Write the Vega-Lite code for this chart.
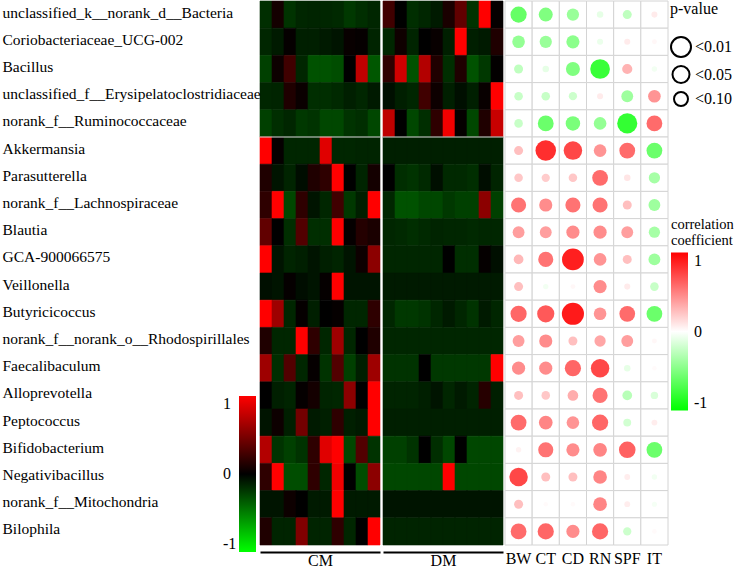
{
"$schema":"https://vega.github.io/schema/vega-lite/v6.json",
"padding":{"left":2,"top":0,"right":0,"bottom":0},
"autosize":{"type":"pad"},
"datasets":{
"cm":[
{"taxon":"unclassified_k__norank_d__Bacteria","sample":"C1","value":-0.18},{"taxon":"unclassified_k__norank_d__Bacteria","sample":"C2","value":0.08},{"taxon":"unclassified_k__norank_d__Bacteria","sample":"C3","value":-0.2},{"taxon":"unclassified_k__norank_d__Bacteria","sample":"C4","value":-0.15},{"taxon":"unclassified_k__norank_d__Bacteria","sample":"C5","value":-0.14},{"taxon":"unclassified_k__norank_d__Bacteria","sample":"C6","value":-0.15},{"taxon":"unclassified_k__norank_d__Bacteria","sample":"C7","value":-0.16},{"taxon":"unclassified_k__norank_d__Bacteria","sample":"C8","value":-0.22},{"taxon":"unclassified_k__norank_d__Bacteria","sample":"C9","value":-0.18},{"taxon":"unclassified_k__norank_d__Bacteria","sample":"C10","value":-0.15},
{"taxon":"Coriobacteriaceae_UCG-002","sample":"C1","value":-0.15},{"taxon":"Coriobacteriaceae_UCG-002","sample":"C2","value":-0.1},{"taxon":"Coriobacteriaceae_UCG-002","sample":"C3","value":0.02},{"taxon":"Coriobacteriaceae_UCG-002","sample":"C4","value":-0.12},{"taxon":"Coriobacteriaceae_UCG-002","sample":"C5","value":-0.12},{"taxon":"Coriobacteriaceae_UCG-002","sample":"C6","value":-0.1},{"taxon":"Coriobacteriaceae_UCG-002","sample":"C7","value":-0.08},{"taxon":"Coriobacteriaceae_UCG-002","sample":"C8","value":0.03},{"taxon":"Coriobacteriaceae_UCG-002","sample":"C9","value":0.02},{"taxon":"Coriobacteriaceae_UCG-002","sample":"C10","value":-0.14},
{"taxon":"Bacillus","sample":"C1","value":-0.25},{"taxon":"Bacillus","sample":"C2","value":0.05},{"taxon":"Bacillus","sample":"C3","value":0.25},{"taxon":"Bacillus","sample":"C4","value":-0.15},{"taxon":"Bacillus","sample":"C5","value":-0.32},{"taxon":"Bacillus","sample":"C6","value":-0.32},{"taxon":"Bacillus","sample":"C7","value":-0.3},{"taxon":"Bacillus","sample":"C8","value":0},{"taxon":"Bacillus","sample":"C9","value":0.75},{"taxon":"Bacillus","sample":"C10","value":-0.34},
{"taxon":"unclassified_f__Erysipelatoclostridiaceae","sample":"C1","value":-0.15},{"taxon":"unclassified_f__Erysipelatoclostridiaceae","sample":"C2","value":-0.14},{"taxon":"unclassified_f__Erysipelatoclostridiaceae","sample":"C3","value":0.12},{"taxon":"unclassified_f__Erysipelatoclostridiaceae","sample":"C4","value":0.04},{"taxon":"unclassified_f__Erysipelatoclostridiaceae","sample":"C5","value":-0.18},{"taxon":"unclassified_f__Erysipelatoclostridiaceae","sample":"C6","value":-0.18},{"taxon":"unclassified_f__Erysipelatoclostridiaceae","sample":"C7","value":-0.16},{"taxon":"unclassified_f__Erysipelatoclostridiaceae","sample":"C8","value":-0.12},{"taxon":"unclassified_f__Erysipelatoclostridiaceae","sample":"C9","value":-0.15},{"taxon":"unclassified_f__Erysipelatoclostridiaceae","sample":"C10","value":-0.1},
{"taxon":"norank_f__Ruminococcaceae","sample":"C1","value":-0.25},{"taxon":"norank_f__Ruminococcaceae","sample":"C2","value":-0.18},{"taxon":"norank_f__Ruminococcaceae","sample":"C3","value":-0.15},{"taxon":"norank_f__Ruminococcaceae","sample":"C4","value":-0.22},{"taxon":"norank_f__Ruminococcaceae","sample":"C5","value":-0.2},{"taxon":"norank_f__Ruminococcaceae","sample":"C6","value":-0.28},{"taxon":"norank_f__Ruminococcaceae","sample":"C7","value":-0.28},{"taxon":"norank_f__Ruminococcaceae","sample":"C8","value":-0.2},{"taxon":"norank_f__Ruminococcaceae","sample":"C9","value":-0.18},{"taxon":"norank_f__Ruminococcaceae","sample":"C10","value":-0.28},
{"taxon":"Akkermansia","sample":"C1","value":1},{"taxon":"Akkermansia","sample":"C2","value":0.02},{"taxon":"Akkermansia","sample":"C3","value":-0.15},{"taxon":"Akkermansia","sample":"C4","value":-0.15},{"taxon":"Akkermansia","sample":"C5","value":-0.15},{"taxon":"Akkermansia","sample":"C6","value":0.88},{"taxon":"Akkermansia","sample":"C7","value":-0.15},{"taxon":"Akkermansia","sample":"C8","value":-0.15},{"taxon":"Akkermansia","sample":"C9","value":-0.14},{"taxon":"Akkermansia","sample":"C10","value":-0.14},
{"taxon":"Parasutterella","sample":"C1","value":0.12},{"taxon":"Parasutterella","sample":"C2","value":-0.08},{"taxon":"Parasutterella","sample":"C3","value":-0.14},{"taxon":"Parasutterella","sample":"C4","value":-0.05},{"taxon":"Parasutterella","sample":"C5","value":0.12},{"taxon":"Parasutterella","sample":"C6","value":0.18},{"taxon":"Parasutterella","sample":"C7","value":1},{"taxon":"Parasutterella","sample":"C8","value":0},{"taxon":"Parasutterella","sample":"C9","value":-0.14},{"taxon":"Parasutterella","sample":"C10","value":0.08},
{"taxon":"norank_f__Lachnospiraceae","sample":"C1","value":0.18},{"taxon":"norank_f__Lachnospiraceae","sample":"C2","value":1},{"taxon":"norank_f__Lachnospiraceae","sample":"C3","value":-0.28},{"taxon":"norank_f__Lachnospiraceae","sample":"C4","value":0.18},{"taxon":"norank_f__Lachnospiraceae","sample":"C5","value":-0.08},{"taxon":"norank_f__Lachnospiraceae","sample":"C6","value":-0.15},{"taxon":"norank_f__Lachnospiraceae","sample":"C7","value":0.25},{"taxon":"norank_f__Lachnospiraceae","sample":"C8","value":-0.22},{"taxon":"norank_f__Lachnospiraceae","sample":"C9","value":-0.12},{"taxon":"norank_f__Lachnospiraceae","sample":"C10","value":1},
{"taxon":"Blautia","sample":"C1","value":0.38},{"taxon":"Blautia","sample":"C2","value":0},{"taxon":"Blautia","sample":"C3","value":-0.18},{"taxon":"Blautia","sample":"C4","value":0.32},{"taxon":"Blautia","sample":"C5","value":-0.18},{"taxon":"Blautia","sample":"C6","value":-0.18},{"taxon":"Blautia","sample":"C7","value":1},{"taxon":"Blautia","sample":"C8","value":0.02},{"taxon":"Blautia","sample":"C9","value":0.14},{"taxon":"Blautia","sample":"C10","value":0.1},
{"taxon":"GCA-900066575","sample":"C1","value":1},{"taxon":"GCA-900066575","sample":"C2","value":-0.08},{"taxon":"GCA-900066575","sample":"C3","value":-0.14},{"taxon":"GCA-900066575","sample":"C4","value":-0.12},{"taxon":"GCA-900066575","sample":"C5","value":-0.08},{"taxon":"GCA-900066575","sample":"C6","value":-0.12},{"taxon":"GCA-900066575","sample":"C7","value":-0.14},{"taxon":"GCA-900066575","sample":"C8","value":-0.08},{"taxon":"GCA-900066575","sample":"C9","value":0.05},{"taxon":"GCA-900066575","sample":"C10","value":0.55},
{"taxon":"Veillonella","sample":"C1","value":-0.06},{"taxon":"Veillonella","sample":"C2","value":-0.08},{"taxon":"Veillonella","sample":"C3","value":0.02},{"taxon":"Veillonella","sample":"C4","value":-0.05},{"taxon":"Veillonella","sample":"C5","value":-0.08},{"taxon":"Veillonella","sample":"C6","value":0.02},{"taxon":"Veillonella","sample":"C7","value":1},{"taxon":"Veillonella","sample":"C8","value":-0.08},{"taxon":"Veillonella","sample":"C9","value":-0.08},{"taxon":"Veillonella","sample":"C10","value":-0.08},
{"taxon":"Butyricicoccus","sample":"C1","value":1},{"taxon":"Butyricicoccus","sample":"C2","value":0.62},{"taxon":"Butyricicoccus","sample":"C3","value":-0.15},{"taxon":"Butyricicoccus","sample":"C4","value":0.02},{"taxon":"Butyricicoccus","sample":"C5","value":-0.12},{"taxon":"Butyricicoccus","sample":"C6","value":0},{"taxon":"Butyricicoccus","sample":"C7","value":0.02},{"taxon":"Butyricicoccus","sample":"C8","value":-0.15},{"taxon":"Butyricicoccus","sample":"C9","value":-0.15},{"taxon":"Butyricicoccus","sample":"C10","value":0.18},
{"taxon":"norank_f__norank_o__Rhodospirillales","sample":"C1","value":0.12},{"taxon":"norank_f__norank_o__Rhodospirillales","sample":"C2","value":-0.15},{"taxon":"norank_f__norank_o__Rhodospirillales","sample":"C3","value":-0.15},{"taxon":"norank_f__norank_o__Rhodospirillales","sample":"C4","value":1},{"taxon":"norank_f__norank_o__Rhodospirillales","sample":"C5","value":0.18},{"taxon":"norank_f__norank_o__Rhodospirillales","sample":"C6","value":-0.15},{"taxon":"norank_f__norank_o__Rhodospirillales","sample":"C7","value":0.62},{"taxon":"norank_f__norank_o__Rhodospirillales","sample":"C8","value":-0.15},{"taxon":"norank_f__norank_o__Rhodospirillales","sample":"C9","value":0},{"taxon":"norank_f__norank_o__Rhodospirillales","sample":"C10","value":0.12},
{"taxon":"Faecalibaculum","sample":"C1","value":0.62},{"taxon":"Faecalibaculum","sample":"C2","value":-0.18},{"taxon":"Faecalibaculum","sample":"C3","value":0.32},{"taxon":"Faecalibaculum","sample":"C4","value":-0.15},{"taxon":"Faecalibaculum","sample":"C5","value":0.02},{"taxon":"Faecalibaculum","sample":"C6","value":-0.2},{"taxon":"Faecalibaculum","sample":"C7","value":0.32},{"taxon":"Faecalibaculum","sample":"C8","value":-0.25},{"taxon":"Faecalibaculum","sample":"C9","value":-0.12},{"taxon":"Faecalibaculum","sample":"C10","value":0.62},
{"taxon":"Alloprevotella","sample":"C1","value":0},{"taxon":"Alloprevotella","sample":"C2","value":-0.12},{"taxon":"Alloprevotella","sample":"C3","value":-0.14},{"taxon":"Alloprevotella","sample":"C4","value":0.02},{"taxon":"Alloprevotella","sample":"C5","value":0.08},{"taxon":"Alloprevotella","sample":"C6","value":-0.14},{"taxon":"Alloprevotella","sample":"C7","value":-0.15},{"taxon":"Alloprevotella","sample":"C8","value":0.55},{"taxon":"Alloprevotella","sample":"C9","value":0},{"taxon":"Alloprevotella","sample":"C10","value":1},
{"taxon":"Peptococcus","sample":"C1","value":-0.08},{"taxon":"Peptococcus","sample":"C2","value":0.05},{"taxon":"Peptococcus","sample":"C3","value":-0.12},{"taxon":"Peptococcus","sample":"C4","value":0.45},{"taxon":"Peptococcus","sample":"C5","value":-0.1},{"taxon":"Peptococcus","sample":"C6","value":-0.12},{"taxon":"Peptococcus","sample":"C7","value":0.18},{"taxon":"Peptococcus","sample":"C8","value":-0.12},{"taxon":"Peptococcus","sample":"C9","value":-0.1},{"taxon":"Peptococcus","sample":"C10","value":1},
{"taxon":"Bifidobacterium","sample":"C1","value":0.7},{"taxon":"Bifidobacterium","sample":"C2","value":-0.2},{"taxon":"Bifidobacterium","sample":"C3","value":-0.25},{"taxon":"Bifidobacterium","sample":"C4","value":-0.2},{"taxon":"Bifidobacterium","sample":"C5","value":0.18},{"taxon":"Bifidobacterium","sample":"C6","value":0.88},{"taxon":"Bifidobacterium","sample":"C7","value":1},{"taxon":"Bifidobacterium","sample":"C8","value":-0.28},{"taxon":"Bifidobacterium","sample":"C9","value":0.32},{"taxon":"Bifidobacterium","sample":"C10","value":-0.2},
{"taxon":"Negativibacillus","sample":"C1","value":0.18},{"taxon":"Negativibacillus","sample":"C2","value":1},{"taxon":"Negativibacillus","sample":"C3","value":-0.3},{"taxon":"Negativibacillus","sample":"C4","value":-0.3},{"taxon":"Negativibacillus","sample":"C5","value":0.18},{"taxon":"Negativibacillus","sample":"C6","value":-0.15},{"taxon":"Negativibacillus","sample":"C7","value":0.95},{"taxon":"Negativibacillus","sample":"C8","value":0},{"taxon":"Negativibacillus","sample":"C9","value":-0.3},{"taxon":"Negativibacillus","sample":"C10","value":0.55},
{"taxon":"norank_f__Mitochondria","sample":"C1","value":-0.08},{"taxon":"norank_f__Mitochondria","sample":"C2","value":-0.08},{"taxon":"norank_f__Mitochondria","sample":"C3","value":0.05},{"taxon":"norank_f__Mitochondria","sample":"C4","value":0},{"taxon":"norank_f__Mitochondria","sample":"C5","value":-0.1},{"taxon":"norank_f__Mitochondria","sample":"C6","value":-0.1},{"taxon":"norank_f__Mitochondria","sample":"C7","value":1},{"taxon":"norank_f__Mitochondria","sample":"C8","value":-0.1},{"taxon":"norank_f__Mitochondria","sample":"C9","value":-0.1},{"taxon":"norank_f__Mitochondria","sample":"C10","value":-0.1},
{"taxon":"Bilophila","sample":"C1","value":0.12},{"taxon":"Bilophila","sample":"C2","value":-0.14},{"taxon":"Bilophila","sample":"C3","value":-0.14},{"taxon":"Bilophila","sample":"C4","value":0.5},{"taxon":"Bilophila","sample":"C5","value":-0.14},{"taxon":"Bilophila","sample":"C6","value":-0.14},{"taxon":"Bilophila","sample":"C7","value":0.18},{"taxon":"Bilophila","sample":"C8","value":-0.15},{"taxon":"Bilophila","sample":"C9","value":0},{"taxon":"Bilophila","sample":"C10","value":1}
],
"dm":[
{"taxon":"unclassified_k__norank_d__Bacteria","sample":"D1","value":0.25},{"taxon":"unclassified_k__norank_d__Bacteria","sample":"D2","value":0},{"taxon":"unclassified_k__norank_d__Bacteria","sample":"D3","value":-0.18},{"taxon":"unclassified_k__norank_d__Bacteria","sample":"D4","value":-0.15},{"taxon":"unclassified_k__norank_d__Bacteria","sample":"D5","value":-0.1},{"taxon":"unclassified_k__norank_d__Bacteria","sample":"D6","value":0.1},{"taxon":"unclassified_k__norank_d__Bacteria","sample":"D7","value":0.38},{"taxon":"unclassified_k__norank_d__Bacteria","sample":"D8","value":-0.2},{"taxon":"unclassified_k__norank_d__Bacteria","sample":"D9","value":1},{"taxon":"unclassified_k__norank_d__Bacteria","sample":"D10","value":0.02},
{"taxon":"Coriobacteriaceae_UCG-002","sample":"D1","value":-0.15},{"taxon":"Coriobacteriaceae_UCG-002","sample":"D2","value":0.06},{"taxon":"Coriobacteriaceae_UCG-002","sample":"D3","value":-0.14},{"taxon":"Coriobacteriaceae_UCG-002","sample":"D4","value":0},{"taxon":"Coriobacteriaceae_UCG-002","sample":"D5","value":0.03},{"taxon":"Coriobacteriaceae_UCG-002","sample":"D6","value":-0.12},{"taxon":"Coriobacteriaceae_UCG-002","sample":"D7","value":1},{"taxon":"Coriobacteriaceae_UCG-002","sample":"D8","value":-0.12},{"taxon":"Coriobacteriaceae_UCG-002","sample":"D9","value":-0.1},{"taxon":"Coriobacteriaceae_UCG-002","sample":"D10","value":0.12},
{"taxon":"Bacillus","sample":"D1","value":0.18},{"taxon":"Bacillus","sample":"D2","value":0.82},{"taxon":"Bacillus","sample":"D3","value":-0.32},{"taxon":"Bacillus","sample":"D4","value":0.7},{"taxon":"Bacillus","sample":"D5","value":0.12},{"taxon":"Bacillus","sample":"D6","value":-0.18},{"taxon":"Bacillus","sample":"D7","value":0.12},{"taxon":"Bacillus","sample":"D8","value":-0.32},{"taxon":"Bacillus","sample":"D9","value":-0.22},{"taxon":"Bacillus","sample":"D10","value":0.01},
{"taxon":"unclassified_f__Erysipelatoclostridiaceae","sample":"D1","value":-0.06},{"taxon":"unclassified_f__Erysipelatoclostridiaceae","sample":"D2","value":-0.12},{"taxon":"unclassified_f__Erysipelatoclostridiaceae","sample":"D3","value":-0.15},{"taxon":"unclassified_f__Erysipelatoclostridiaceae","sample":"D4","value":0.25},{"taxon":"unclassified_f__Erysipelatoclostridiaceae","sample":"D5","value":0.05},{"taxon":"unclassified_f__Erysipelatoclostridiaceae","sample":"D6","value":-0.12},{"taxon":"unclassified_f__Erysipelatoclostridiaceae","sample":"D7","value":-0.06},{"taxon":"unclassified_f__Erysipelatoclostridiaceae","sample":"D8","value":-0.12},{"taxon":"unclassified_f__Erysipelatoclostridiaceae","sample":"D9","value":0.03},{"taxon":"unclassified_f__Erysipelatoclostridiaceae","sample":"D10","value":1},
{"taxon":"norank_f__Ruminococcaceae","sample":"D1","value":0.75},{"taxon":"norank_f__Ruminococcaceae","sample":"D2","value":0},{"taxon":"norank_f__Ruminococcaceae","sample":"D3","value":-0.28},{"taxon":"norank_f__Ruminococcaceae","sample":"D4","value":-0.18},{"taxon":"norank_f__Ruminococcaceae","sample":"D5","value":0.18},{"taxon":"norank_f__Ruminococcaceae","sample":"D6","value":0.95},{"taxon":"norank_f__Ruminococcaceae","sample":"D7","value":0.02},{"taxon":"norank_f__Ruminococcaceae","sample":"D8","value":-0.28},{"taxon":"norank_f__Ruminococcaceae","sample":"D9","value":0.12},{"taxon":"norank_f__Ruminococcaceae","sample":"D10","value":0.78},
{"taxon":"Akkermansia","sample":"D1","value":-0.12},{"taxon":"Akkermansia","sample":"D2","value":-0.12},{"taxon":"Akkermansia","sample":"D3","value":-0.12},{"taxon":"Akkermansia","sample":"D4","value":-0.12},{"taxon":"Akkermansia","sample":"D5","value":-0.12},{"taxon":"Akkermansia","sample":"D6","value":-0.12},{"taxon":"Akkermansia","sample":"D7","value":-0.12},{"taxon":"Akkermansia","sample":"D8","value":-0.12},{"taxon":"Akkermansia","sample":"D9","value":-0.12},{"taxon":"Akkermansia","sample":"D10","value":-0.12},
{"taxon":"Parasutterella","sample":"D1","value":0},{"taxon":"Parasutterella","sample":"D2","value":-0.18},{"taxon":"Parasutterella","sample":"D3","value":-0.2},{"taxon":"Parasutterella","sample":"D4","value":-0.16},{"taxon":"Parasutterella","sample":"D5","value":-0.06},{"taxon":"Parasutterella","sample":"D6","value":-0.16},{"taxon":"Parasutterella","sample":"D7","value":-0.16},{"taxon":"Parasutterella","sample":"D8","value":-0.18},{"taxon":"Parasutterella","sample":"D9","value":-0.05},{"taxon":"Parasutterella","sample":"D10","value":-0.14},
{"taxon":"norank_f__Lachnospiraceae","sample":"D1","value":-0.15},{"taxon":"norank_f__Lachnospiraceae","sample":"D2","value":-0.32},{"taxon":"norank_f__Lachnospiraceae","sample":"D3","value":-0.32},{"taxon":"norank_f__Lachnospiraceae","sample":"D4","value":-0.28},{"taxon":"norank_f__Lachnospiraceae","sample":"D5","value":-0.28},{"taxon":"norank_f__Lachnospiraceae","sample":"D6","value":-0.22},{"taxon":"norank_f__Lachnospiraceae","sample":"D7","value":-0.25},{"taxon":"norank_f__Lachnospiraceae","sample":"D8","value":-0.25},{"taxon":"norank_f__Lachnospiraceae","sample":"D9","value":0.55},{"taxon":"norank_f__Lachnospiraceae","sample":"D10","value":-0.25},
{"taxon":"Blautia","sample":"D1","value":-0.15},{"taxon":"Blautia","sample":"D2","value":-0.16},{"taxon":"Blautia","sample":"D3","value":-0.18},{"taxon":"Blautia","sample":"D4","value":-0.16},{"taxon":"Blautia","sample":"D5","value":-0.14},{"taxon":"Blautia","sample":"D6","value":-0.15},{"taxon":"Blautia","sample":"D7","value":-0.15},{"taxon":"Blautia","sample":"D8","value":-0.16},{"taxon":"Blautia","sample":"D9","value":-0.15},{"taxon":"Blautia","sample":"D10","value":-0.15},
{"taxon":"GCA-900066575","sample":"D1","value":-0.15},{"taxon":"GCA-900066575","sample":"D2","value":-0.15},{"taxon":"GCA-900066575","sample":"D3","value":-0.15},{"taxon":"GCA-900066575","sample":"D4","value":-0.15},{"taxon":"GCA-900066575","sample":"D5","value":-0.15},{"taxon":"GCA-900066575","sample":"D6","value":0},{"taxon":"GCA-900066575","sample":"D7","value":-0.18},{"taxon":"GCA-900066575","sample":"D8","value":-0.18},{"taxon":"GCA-900066575","sample":"D9","value":0.02},{"taxon":"GCA-900066575","sample":"D10","value":-0.06},
{"taxon":"Veillonella","sample":"D1","value":-0.1},{"taxon":"Veillonella","sample":"D2","value":-0.1},{"taxon":"Veillonella","sample":"D3","value":-0.1},{"taxon":"Veillonella","sample":"D4","value":-0.1},{"taxon":"Veillonella","sample":"D5","value":-0.1},{"taxon":"Veillonella","sample":"D6","value":-0.1},{"taxon":"Veillonella","sample":"D7","value":-0.1},{"taxon":"Veillonella","sample":"D8","value":-0.1},{"taxon":"Veillonella","sample":"D9","value":-0.1},{"taxon":"Veillonella","sample":"D10","value":-0.1},
{"taxon":"Butyricicoccus","sample":"D1","value":-0.15},{"taxon":"Butyricicoccus","sample":"D2","value":-0.22},{"taxon":"Butyricicoccus","sample":"D3","value":-0.22},{"taxon":"Butyricicoccus","sample":"D4","value":-0.2},{"taxon":"Butyricicoccus","sample":"D5","value":-0.15},{"taxon":"Butyricicoccus","sample":"D6","value":-0.1},{"taxon":"Butyricicoccus","sample":"D7","value":-0.15},{"taxon":"Butyricicoccus","sample":"D8","value":-0.2},{"taxon":"Butyricicoccus","sample":"D9","value":-0.1},{"taxon":"Butyricicoccus","sample":"D10","value":-0.15},
{"taxon":"norank_f__norank_o__Rhodospirillales","sample":"D1","value":-0.15},{"taxon":"norank_f__norank_o__Rhodospirillales","sample":"D2","value":-0.15},{"taxon":"norank_f__norank_o__Rhodospirillales","sample":"D3","value":-0.15},{"taxon":"norank_f__norank_o__Rhodospirillales","sample":"D4","value":-0.15},{"taxon":"norank_f__norank_o__Rhodospirillales","sample":"D5","value":-0.15},{"taxon":"norank_f__norank_o__Rhodospirillales","sample":"D6","value":-0.15},{"taxon":"norank_f__norank_o__Rhodospirillales","sample":"D7","value":-0.15},{"taxon":"norank_f__norank_o__Rhodospirillales","sample":"D8","value":-0.15},{"taxon":"norank_f__norank_o__Rhodospirillales","sample":"D9","value":-0.15},{"taxon":"norank_f__norank_o__Rhodospirillales","sample":"D10","value":-0.15},
{"taxon":"Faecalibaculum","sample":"D1","value":-0.2},{"taxon":"Faecalibaculum","sample":"D2","value":-0.2},{"taxon":"Faecalibaculum","sample":"D3","value":-0.2},{"taxon":"Faecalibaculum","sample":"D4","value":0},{"taxon":"Faecalibaculum","sample":"D5","value":-0.22},{"taxon":"Faecalibaculum","sample":"D6","value":-0.22},{"taxon":"Faecalibaculum","sample":"D7","value":-0.22},{"taxon":"Faecalibaculum","sample":"D8","value":-0.22},{"taxon":"Faecalibaculum","sample":"D9","value":-0.22},{"taxon":"Faecalibaculum","sample":"D10","value":1},
{"taxon":"Alloprevotella","sample":"D1","value":-0.14},{"taxon":"Alloprevotella","sample":"D2","value":-0.14},{"taxon":"Alloprevotella","sample":"D3","value":-0.14},{"taxon":"Alloprevotella","sample":"D4","value":-0.12},{"taxon":"Alloprevotella","sample":"D5","value":-0.08},{"taxon":"Alloprevotella","sample":"D6","value":-0.15},{"taxon":"Alloprevotella","sample":"D7","value":-0.1},{"taxon":"Alloprevotella","sample":"D8","value":-0.14},{"taxon":"Alloprevotella","sample":"D9","value":0.15},{"taxon":"Alloprevotella","sample":"D10","value":-0.12},
{"taxon":"Peptococcus","sample":"D1","value":-0.12},{"taxon":"Peptococcus","sample":"D2","value":-0.12},{"taxon":"Peptococcus","sample":"D3","value":-0.12},{"taxon":"Peptococcus","sample":"D4","value":-0.12},{"taxon":"Peptococcus","sample":"D5","value":-0.12},{"taxon":"Peptococcus","sample":"D6","value":-0.12},{"taxon":"Peptococcus","sample":"D7","value":-0.12},{"taxon":"Peptococcus","sample":"D8","value":-0.12},{"taxon":"Peptococcus","sample":"D9","value":-0.12},{"taxon":"Peptococcus","sample":"D10","value":-0.12},
{"taxon":"Bifidobacterium","sample":"D1","value":-0.25},{"taxon":"Bifidobacterium","sample":"D2","value":-0.25},{"taxon":"Bifidobacterium","sample":"D3","value":-0.2},{"taxon":"Bifidobacterium","sample":"D4","value":0},{"taxon":"Bifidobacterium","sample":"D5","value":-0.18},{"taxon":"Bifidobacterium","sample":"D6","value":-0.28},{"taxon":"Bifidobacterium","sample":"D7","value":0},{"taxon":"Bifidobacterium","sample":"D8","value":-0.28},{"taxon":"Bifidobacterium","sample":"D9","value":-0.28},{"taxon":"Bifidobacterium","sample":"D10","value":-0.28},
{"taxon":"Negativibacillus","sample":"D1","value":-0.28},{"taxon":"Negativibacillus","sample":"D2","value":-0.28},{"taxon":"Negativibacillus","sample":"D3","value":-0.28},{"taxon":"Negativibacillus","sample":"D4","value":-0.28},{"taxon":"Negativibacillus","sample":"D5","value":-0.28},{"taxon":"Negativibacillus","sample":"D6","value":1},{"taxon":"Negativibacillus","sample":"D7","value":-0.28},{"taxon":"Negativibacillus","sample":"D8","value":-0.28},{"taxon":"Negativibacillus","sample":"D9","value":-0.28},{"taxon":"Negativibacillus","sample":"D10","value":-0.28},
{"taxon":"norank_f__Mitochondria","sample":"D1","value":-0.08},{"taxon":"norank_f__Mitochondria","sample":"D2","value":-0.08},{"taxon":"norank_f__Mitochondria","sample":"D3","value":-0.08},{"taxon":"norank_f__Mitochondria","sample":"D4","value":-0.08},{"taxon":"norank_f__Mitochondria","sample":"D5","value":-0.08},{"taxon":"norank_f__Mitochondria","sample":"D6","value":-0.08},{"taxon":"norank_f__Mitochondria","sample":"D7","value":-0.08},{"taxon":"norank_f__Mitochondria","sample":"D8","value":-0.08},{"taxon":"norank_f__Mitochondria","sample":"D9","value":-0.08},{"taxon":"norank_f__Mitochondria","sample":"D10","value":-0.08},
{"taxon":"Bilophila","sample":"D1","value":-0.14},{"taxon":"Bilophila","sample":"D2","value":-0.14},{"taxon":"Bilophila","sample":"D3","value":-0.14},{"taxon":"Bilophila","sample":"D4","value":-0.14},{"taxon":"Bilophila","sample":"D5","value":-0.14},{"taxon":"Bilophila","sample":"D6","value":-0.14},{"taxon":"Bilophila","sample":"D7","value":-0.14},{"taxon":"Bilophila","sample":"D8","value":-0.14},{"taxon":"Bilophila","sample":"D9","value":-0.14},{"taxon":"Bilophila","sample":"D10","value":-0.14}
],
"corr":[
{"taxon":"unclassified_k__norank_d__Bacteria","trait":"BW","r":-0.6},{"taxon":"unclassified_k__norank_d__Bacteria","trait":"CT","r":-0.5},{"taxon":"unclassified_k__norank_d__Bacteria","trait":"CD","r":-0.4},{"taxon":"unclassified_k__norank_d__Bacteria","trait":"RN","r":-0.1},{"taxon":"unclassified_k__norank_d__Bacteria","trait":"SPF","r":-0.25},{"taxon":"unclassified_k__norank_d__Bacteria","trait":"IT","r":0.08},
{"taxon":"Coriobacteriaceae_UCG-002","trait":"BW","r":-0.42},{"taxon":"Coriobacteriaceae_UCG-002","trait":"CT","r":-0.4},{"taxon":"Coriobacteriaceae_UCG-002","trait":"CD","r":-0.45},{"taxon":"Coriobacteriaceae_UCG-002","trait":"RN","r":-0.08},{"taxon":"Coriobacteriaceae_UCG-002","trait":"SPF","r":0.08},{"taxon":"Coriobacteriaceae_UCG-002","trait":"IT","r":0.03},
{"taxon":"Bacillus","trait":"BW","r":-0.25},{"taxon":"Bacillus","trait":"CT","r":-0.1},{"taxon":"Bacillus","trait":"CD","r":-0.5},{"taxon":"Bacillus","trait":"RN","r":-0.78},{"taxon":"Bacillus","trait":"SPF","r":0.3},{"taxon":"Bacillus","trait":"IT","r":-0.05},
{"taxon":"unclassified_f__Erysipelatoclostridiaceae","trait":"BW","r":-0.22},{"taxon":"unclassified_f__Erysipelatoclostridiaceae","trait":"CT","r":-0.22},{"taxon":"unclassified_f__Erysipelatoclostridiaceae","trait":"CD","r":-0.2},{"taxon":"unclassified_f__Erysipelatoclostridiaceae","trait":"RN","r":0.08},{"taxon":"unclassified_f__Erysipelatoclostridiaceae","trait":"SPF","r":-0.38},{"taxon":"unclassified_f__Erysipelatoclostridiaceae","trait":"IT","r":0.42},
{"taxon":"norank_f__Ruminococcaceae","trait":"BW","r":-0.22},{"taxon":"norank_f__Ruminococcaceae","trait":"CT","r":-0.58},{"taxon":"norank_f__Ruminococcaceae","trait":"CD","r":-0.52},{"taxon":"norank_f__Ruminococcaceae","trait":"RN","r":-0.42},{"taxon":"norank_f__Ruminococcaceae","trait":"SPF","r":-0.8},{"taxon":"norank_f__Ruminococcaceae","trait":"IT","r":0.58},
{"taxon":"Akkermansia","trait":"BW","r":0.25},{"taxon":"Akkermansia","trait":"CT","r":0.82},{"taxon":"Akkermansia","trait":"CD","r":0.72},{"taxon":"Akkermansia","trait":"RN","r":0.42},{"taxon":"Akkermansia","trait":"SPF","r":0.58},{"taxon":"Akkermansia","trait":"IT","r":-0.58},
{"taxon":"Parasutterella","trait":"BW","r":0.22},{"taxon":"Parasutterella","trait":"CT","r":0.2},{"taxon":"Parasutterella","trait":"CD","r":0.22},{"taxon":"Parasutterella","trait":"RN","r":0.58},{"taxon":"Parasutterella","trait":"SPF","r":0.1},{"taxon":"Parasutterella","trait":"IT","r":-0.35},
{"taxon":"norank_f__Lachnospiraceae","trait":"BW","r":0.55},{"taxon":"norank_f__Lachnospiraceae","trait":"CT","r":0.45},{"taxon":"norank_f__Lachnospiraceae","trait":"CD","r":0.55},{"taxon":"norank_f__Lachnospiraceae","trait":"RN","r":0.55},{"taxon":"norank_f__Lachnospiraceae","trait":"SPF","r":0.25},{"taxon":"norank_f__Lachnospiraceae","trait":"IT","r":-0.38},
{"taxon":"Blautia","trait":"BW","r":0.38},{"taxon":"Blautia","trait":"CT","r":0.38},{"taxon":"Blautia","trait":"CD","r":0.45},{"taxon":"Blautia","trait":"RN","r":0.45},{"taxon":"Blautia","trait":"SPF","r":0.38},{"taxon":"Blautia","trait":"IT","r":-0.35},
{"taxon":"GCA-900066575","trait":"BW","r":0.28},{"taxon":"GCA-900066575","trait":"CT","r":0.55},{"taxon":"GCA-900066575","trait":"CD","r":0.88},{"taxon":"GCA-900066575","trait":"RN","r":0.42},{"taxon":"GCA-900066575","trait":"SPF","r":0.25},{"taxon":"GCA-900066575","trait":"IT","r":-0.38},
{"taxon":"Veillonella","trait":"BW","r":0.25},{"taxon":"Veillonella","trait":"CT","r":-0.05},{"taxon":"Veillonella","trait":"CD","r":0.03},{"taxon":"Veillonella","trait":"RN","r":0.45},{"taxon":"Veillonella","trait":"SPF","r":0.08},{"taxon":"Veillonella","trait":"IT","r":-0.22},
{"taxon":"Butyricicoccus","trait":"BW","r":0.6},{"taxon":"Butyricicoccus","trait":"CT","r":0.65},{"taxon":"Butyricicoccus","trait":"CD","r":0.9},{"taxon":"Butyricicoccus","trait":"RN","r":0.42},{"taxon":"Butyricicoccus","trait":"SPF","r":0.58},{"taxon":"Butyricicoccus","trait":"IT","r":-0.58},
{"taxon":"norank_f__norank_o__Rhodospirillales","trait":"BW","r":0.38},{"taxon":"norank_f__norank_o__Rhodospirillales","trait":"CT","r":0.45},{"taxon":"norank_f__norank_o__Rhodospirillales","trait":"CD","r":0.25},{"taxon":"norank_f__norank_o__Rhodospirillales","trait":"RN","r":0.35},{"taxon":"norank_f__norank_o__Rhodospirillales","trait":"SPF","r":0.38},{"taxon":"norank_f__norank_o__Rhodospirillales","trait":"IT","r":0.03},
{"taxon":"Faecalibaculum","trait":"BW","r":0.45},{"taxon":"Faecalibaculum","trait":"CT","r":0.45},{"taxon":"Faecalibaculum","trait":"CD","r":0.6},{"taxon":"Faecalibaculum","trait":"RN","r":0.72},{"taxon":"Faecalibaculum","trait":"SPF","r":-0.1},{"taxon":"Faecalibaculum","trait":"IT","r":0.02},
{"taxon":"Alloprevotella","trait":"BW","r":0.25},{"taxon":"Alloprevotella","trait":"CT","r":0.22},{"taxon":"Alloprevotella","trait":"CD","r":0.32},{"taxon":"Alloprevotella","trait":"RN","r":0.55},{"taxon":"Alloprevotella","trait":"SPF","r":-0.28},{"taxon":"Alloprevotella","trait":"IT","r":-0.15},
{"taxon":"Peptococcus","trait":"BW","r":0.58},{"taxon":"Peptococcus","trait":"CT","r":0.48},{"taxon":"Peptococcus","trait":"CD","r":0.42},{"taxon":"Peptococcus","trait":"RN","r":0.6},{"taxon":"Peptococcus","trait":"SPF","r":-0.18},{"taxon":"Peptococcus","trait":"IT","r":0.07},
{"taxon":"Bifidobacterium","trait":"BW","r":0.05},{"taxon":"Bifidobacterium","trait":"CT","r":0.55},{"taxon":"Bifidobacterium","trait":"CD","r":0.45},{"taxon":"Bifidobacterium","trait":"RN","r":0.48},{"taxon":"Bifidobacterium","trait":"SPF","r":0.62},{"taxon":"Bifidobacterium","trait":"IT","r":-0.58},
{"taxon":"Negativibacillus","trait":"BW","r":0.72},{"taxon":"Negativibacillus","trait":"CT","r":0.25},{"taxon":"Negativibacillus","trait":"CD","r":0.25},{"taxon":"Negativibacillus","trait":"RN","r":0.48},{"taxon":"Negativibacillus","trait":"SPF","r":0.07},{"taxon":"Negativibacillus","trait":"IT","r":-0.05},
{"taxon":"norank_f__Mitochondria","trait":"BW","r":0.25},{"taxon":"norank_f__Mitochondria","trait":"CT","r":0.02},{"taxon":"norank_f__Mitochondria","trait":"CD","r":0.02},{"taxon":"norank_f__Mitochondria","trait":"RN","r":0.48},{"taxon":"norank_f__Mitochondria","trait":"SPF","r":0.07},{"taxon":"norank_f__Mitochondria","trait":"IT","r":-0.04},
{"taxon":"Bilophila","trait":"BW","r":0.58},{"taxon":"Bilophila","trait":"CT","r":0.6},{"taxon":"Bilophila","trait":"CD","r":0.45},{"taxon":"Bilophila","trait":"RN","r":0.6},{"taxon":"Bilophila","trait":"SPF","r":-0.2},{"taxon":"Bilophila","trait":"IT","r":0.02}
],
"pv":[{"p":"<0.01"},{"p":"<0.05"},{"p":"<0.10"}],
"sep":[{"taxon":"Akkermansia"}]
},
"spacing":0,
"resolve":{"scale":{"color":"independent","size":"independent"}},
"hconcat":[
{
"spacing":1,
"resolve":{"scale":{"color":"independent"}},
"hconcat":[
{
"width":120,"height":544,
"layer":[
{"data":{"name":"cm"},"mark":{"type":"rect","strokeWidth":0.6},
"encoding":{
"x":{"field":"sample","type":"nominal","sort":null,"scale":{"paddingInner":0,"paddingOuter":0},"axis":{"title":"CM","labels":false,"ticks":false,"domain":true,"domainColor":"#000000","domainWidth":2,"offset":7,"titlePadding":0}},
"y":{"field":"taxon","type":"nominal","sort":null,"scale":{"paddingInner":0,"paddingOuter":0},"axis":{"title":null,"ticks":false,"domain":false,"labelAlign":"left","labelPadding":258,"labelLimit":400,"labelFontSize":15.5,"labelOffset":-2,"labelFont":"Liberation Serif"}},
"color":{"field":"value","type":"quantitative","scale":{"domain":[-1,0,1],"range":["#00ff00","#000000","#ff0000"],"interpolate":"rgb"},"legend":{"orient":"none","legendX":-21,"legendY":395,"direction":"vertical","title":null,"gradientLength":156,"gradientThickness":17,"gradientStrokeWidth":0,"values":[-1,0,1],"labelOffset":-33,"labelFontSize":16,"labelExpr":"datum.value < 0 ? '-1' : datum.value > 0 ? '1' : '0'"}},
"stroke":{"field":"value","type":"quantitative","scale":{"domain":[-1,0,1],"range":["#00ff00","#000000","#ff0000"],"interpolate":"rgb"},"legend":null}
}},
{"data":{"name":"sep"},"mark":{"type":"rule","color":"#dddddd","strokeWidth":1},
"encoding":{"y":{"field":"taxon","type":"nominal","sort":null,"bandPosition":0}}}
]
},
{
"width":120,"height":544,
"layer":[
{"data":{"name":"dm"},"mark":{"type":"rect","strokeWidth":0.6},
"encoding":{
"x":{"field":"sample","type":"nominal","sort":null,"scale":{"paddingInner":0,"paddingOuter":0},"axis":{"title":"DM","labels":false,"ticks":false,"domain":true,"domainColor":"#000000","domainWidth":2,"offset":7,"titlePadding":0}},
"y":{"field":"taxon","type":"nominal","sort":null,"scale":{"paddingInner":0,"paddingOuter":0},"axis":null},
"color":{"field":"value","type":"quantitative","scale":{"domain":[-1,0,1],"range":["#00ff00","#000000","#ff0000"],"interpolate":"rgb"},"legend":null},
"stroke":{"field":"value","type":"quantitative","scale":{"domain":[-1,0,1],"range":["#00ff00","#000000","#ff0000"],"interpolate":"rgb"},"legend":null}
}},
{"data":{"name":"sep"},"mark":{"type":"rule","color":"#dddddd","strokeWidth":1},
"encoding":{"y":{"field":"taxon","type":"nominal","sort":null,"bandPosition":0}}}
]
}
]
},
{
"width":163,"height":544,
"resolve":{"scale":{"size":"independent"}},
"layer":[
{"data":{"name":"corr"},"mark":{"type":"rect","fill":"#ffffff","stroke":"#d4d4d4","strokeWidth":1},
"encoding":{
"x":{"field":"trait","type":"nominal","sort":null,"scale":{"paddingInner":0,"paddingOuter":0},"axis":{"title":null,"ticks":false,"domain":false,"labelAngle":0,"labelPadding":5,"labelFontSize":16}},
"y":{"field":"taxon","type":"nominal","sort":null,"scale":{"paddingInner":0,"paddingOuter":0},"axis":null}
}},
{"data":{"name":"corr"},"mark":{"type":"circle","opacity":1},
"encoding":{
"x":{"field":"trait","type":"nominal","sort":null},
"y":{"field":"taxon","type":"nominal","sort":null},
"color":{"field":"r","type":"quantitative","scale":{"domain":[-1,0,1],"range":["#00ff00","#ffffff","#ff0000"],"interpolate":"rgb"},"legend":{"orient":"none","legendX":166,"legendY":217,"direction":"vertical","title":["correlation","coefficient"],"titleFontSize":14.5,"titleLineHeight":16,"titlePadding":4,"gradientLength":158,"gradientThickness":17,"gradientStrokeWidth":0,"values":[-1,0,1],"labelOffset":6,"labelFontSize":16,"labelExpr":"datum.value < 0 ? '-1' : datum.value > 0 ? '1' : '0'"}},
"size":{"field":"r","type":"quantitative","scale":{"type":"linear","domain":[-1,-0.75,-0.5,-0.25,0,0.25,0.5,0.75,1],"range":[576,361,196,81,16,81,196,361,576]},"legend":null}
}},
{"data":{"name":"pv"},"mark":{"type":"point","shape":"circle","filled":false,"stroke":"#000000","strokeWidth":2,"opacity":0},
"encoding":{
"size":{"field":"p","type":"ordinal","sort":null,"scale":{"type":"ordinal","domain":["<0.01","<0.05","<0.10"],"range":[400,289,196]},"legend":{"orient":"none","legendX":165,"legendY":0,"title":"p-value","titlePadding":19,"rowPadding":1,"symbolOpacity":1,"symbolStrokeColor":"#000000","symbolStrokeWidth":2,"symbolFillColor":"transparent","symbolType":"circle","labelOffset":3,"labelFontSize":16}}
}}
]
}
],
"config":{
"font":"Liberation Serif",
"view":{"stroke":null},
"text":{"font":"Liberation Serif"},
"style":{"guide-label":{"font":"Liberation Serif"},"guide-title":{"font":"Liberation Serif"}},
"axis":{"labelFont":"Liberation Serif","titleFont":"Liberation Serif","labelColor":"#000000","titleColor":"#000000","labelFontSize":16,"titleFontSize":16,"titleFontWeight":"normal","grid":false},
"legend":{"labelFont":"Liberation Serif","titleFont":"Liberation Serif","labelColor":"#000000","titleColor":"#000000","labelFontSize":16,"titleFontSize":16,"titleFontWeight":"normal"}
}
}
